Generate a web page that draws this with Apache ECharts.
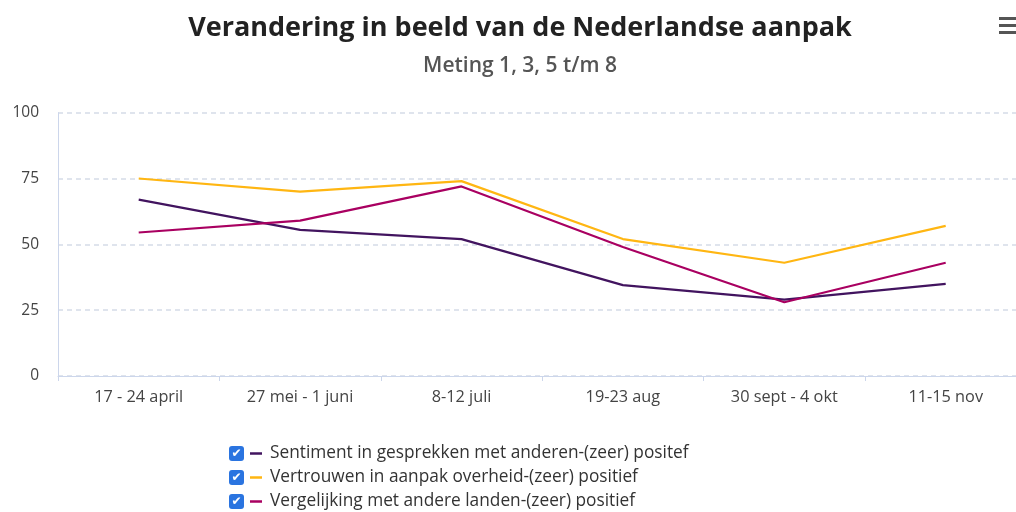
<!DOCTYPE html>
<html>
<head>
<meta charset="utf-8">
<script src="https://cdn.jsdelivr.net/npm/echarts@6/dist/echarts.min.js"></script>
<style>
html,body{margin:0;padding:0;background:#fff;}
#chart{width:1016px;height:512px;}
</style>
</head>
<body>
<div id="chart"></div>
<script>
const categories = ['17 - 24 april', '27 mei - 1 juni', '8-12 juli', '19-23 aug', '30 sept - 4 okt', '11-15 nov'];
const seriesNames = [
  'Sentiment in gesprekken met anderen-(zeer) positef',
  'Vertrouwen in aanpak overheid-(zeer) positief',
  'Vergelijking met andere landen-(zeer) positief'
];
const sentiment = [67, 55.5, 52, 34.5, 29, 35];
const vertrouwen = [75, 70, 74, 52, 43, 57];
const vergelijking = [54.5, 59, 72, 49, 28, 43];
const yTicks = [0, 25, 50, 75, 100];
const colors = ['#42145f', '#ffb612', '#a90061'];

const chart = echarts.init(document.getElementById('chart'), null, {renderer: 'canvas'});
const FONT = '"Open Sans", "Noto Sans", sans-serif';

const dash = c => ({backgroundColor: c, width: 12, height: 2.5, fontSize: 2, lineHeight: 2.5});
const rich = {
  box: {backgroundColor: '#2a74e0', color: '#fff', width: 15, height: 15, align: 'center', borderRadius: 3, fontSize: 12, fontWeight: 'bold', lineHeight: 15, fontFamily: 'DejaVu Sans'},
  sp1: {width: 6, fontSize: 2},
  sp2: {width: 8, fontSize: 2},
  d0: dash(colors[0]),
  d1: dash(colors[1]),
  d2: dash(colors[2]),
  t: {color: '#333', fontSize: 17.3, fontFamily: FONT}
};

chart.setOption({
  animation: false,
  color: colors,
  title: {
    text: 'Verandering in beeld van de Nederlandse aanpak',
    subtext: 'Meting 1, 3, 5 t/m 8',
    left: 515, top: 10, textAlign: 'center',
    textStyle: {fontFamily: FONT, fontSize: 27, fontWeight: 'bold', color: '#222'},
    subtextStyle: {fontFamily: FONT, fontSize: 21, fontWeight: 600, color: '#555'},
    itemGap: 14
  },
  graphic: [
    {type: 'rect', shape: {x: 999, y: 17, width: 20, height: 3}, style: {fill: '#555'}},
    {type: 'rect', shape: {x: 999, y: 24, width: 20, height: 3}, style: {fill: '#555'}},
    {type: 'rect', shape: {x: 999, y: 31, width: 20, height: 3}, style: {fill: '#555'}}
  ],
  legend: {
    orient: 'vertical',
    left: 224, top: 445, padding: 0,
    itemWidth: 0, itemHeight: 0, itemGap: 7,
    icon: 'rect',
    data: seriesNames,
    formatter: function (name) {
      const i = seriesNames.indexOf(name);
      return '{box|✔}{sp1| }{d' + i + '| }{sp2| }{t|' + name + '}';
    },
    textStyle: {rich: rich, fontFamily: FONT}
  },
  grid: {left: 58, width: 968.4, top: 112.7, bottom: 136, containLabel: false, outerBoundsMode: 'none'},
  xAxis: {
    type: 'category',
    data: categories,
    boundaryGap: true,
    axisLine: {lineStyle: {color: '#ccd6eb', width: 1}},
    axisTick: {show: true, length: 5, lineStyle: {color: '#ccd6eb'}},
    axisLabel: {color: '#444', fontSize: 16.3, fontFamily: FONT, margin: 13}
  },
  yAxis: {
    type: 'value',
    min: 0, max: 100, interval: 25,
    axisLine: {show: true, lineStyle: {color: '#ccd6eb', width: 1}},
    axisTick: {show: false},
    axisLabel: {color: '#444', fontSize: 15.5, fontFamily: FONT, margin: 19,
      formatter: v => yTicks.includes(v) ? String(v) : ''},
    splitLine: {lineStyle: {color: '#d5dce8', type: [5, 4], width: 1.5}}
  },
  series: [
    {name: seriesNames[0], type: 'line', data: sentiment, symbol: 'none', lineStyle: {width: 2.2}},
    {name: seriesNames[1], type: 'line', data: vertrouwen, symbol: 'none', lineStyle: {width: 2.2}},
    {name: seriesNames[2], type: 'line', data: vergelijking, symbol: 'none', lineStyle: {width: 2.2}}
  ]
});
</script>
</body>
</html>
